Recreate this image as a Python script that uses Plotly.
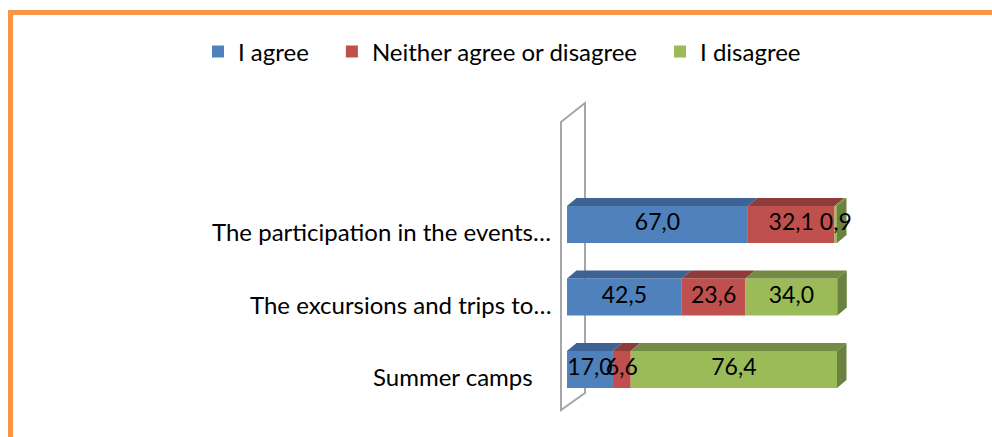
import plotly.graph_objects as go

# ---------------- data ----------------
categories = ["Summer camps", "The excursions and trips to…", "The participation in the events…"]
series_names = ["I agree", "Neither agree or disagree", "I disagree"]
agree = [17.0, 42.5, 67.0]
neither = [6.6, 23.6, 32.1]
disagree = [76.4, 34.0, 0.9]

# ---------------- styles ----------------
front_colors = ["#4F81BD", "#C0504D", "#9BBB59"]
top_colors = ["#3D6394", "#8E3C3A", "#728C43"]
side_color = "#6A8240"
FONT = "Lato"
label_xshift = [-18, 0, 0]
legend_pad = "\u2002\u2005"

W, H = 992, 437
PL, PR, PT, PB = 540, 870, 90, 420          # plot area in px
X0PX, XPX = 567, 2.7                          # px of value 0, px per unit
Y0PX, YPX = 369.5, 72.5                       # px of category 0, px per unit
xr = [(PL - X0PX) / XPX, (PR - X0PX) / XPX]
yr = [(Y0PX - PB) / YPX, (Y0PX - PT) / YPX]
bar_w = 37 / YPX
dx, dy = 9.5 / XPX, 8 / YPX

series = [agree, neither, disagree]
ypos = list(range(len(categories)))

fig = go.Figure()

# front faces
bases = [0.0] * len(categories)
all_bases = []
for name, vals, col in zip(series_names, series, front_colors):
    all_bases.append(list(bases))
    fig.add_trace(go.Bar(
        y=ypos, x=vals, base=list(bases), orientation="h", name=name + legend_pad,
        width=bar_w, marker=dict(color=col, line=dict(width=0)),
        hoverinfo="skip",
    ))
    bases = [b + v for b, v in zip(bases, vals)]

# top faces
for vals, b0s, col in zip(series, all_bases, top_colors):
    xs, ys = [], []
    for y, v, b in zip(ypos, vals, b0s):
        yt = y + bar_w / 2
        xs += [b, b + v, b + v + dx, b + dx, b, None]
        ys += [yt, yt, yt + dy, yt + dy, yt, None]
    fig.add_trace(go.Scatter(x=xs, y=ys, mode="lines", fill="toself",
                             fillcolor=col, line=dict(width=0, color=col),
                             showlegend=False, hoverinfo="skip"))

# side faces (end of each stack)
xs, ys = [], []
for y, e in zip(ypos, bases):
    yt, yb = y + bar_w / 2, y - bar_w / 2
    xs += [e, e, e + dx, e + dx, e, None]
    ys += [yb, yt, yt + dy, yb + dy, yb, None]
fig.add_trace(go.Scatter(x=xs, y=ys, mode="lines", fill="toself",
                         fillcolor=side_color, line=dict(width=0, color=side_color),
                         showlegend=False, hoverinfo="skip"))

# value labels on top of everything
for vals, b0s in zip(series, all_bases):
    fig.add_trace(go.Scatter(
        x=[b + v / 2 for v, b in zip(vals, b0s)], y=ypos, mode="text",
        text=[f"{v:.1f}".replace(".", ",") for v in vals],
        textposition="middle center", cliponaxis=False,
        textfont=dict(family=FONT, size=23, color="black"),
        showlegend=False, hoverinfo="skip"))

# back wall (3D category wall)
wf = (561 - X0PX) / XPX
wb = (585 - X0PX) / XPX
wall_path = "M {a},{b} L {a},{c} L {d},{e} L {d},{f} Z".format(
    a=wf, b=(Y0PX - 410) / YPX, c=(Y0PX - 122) / YPX,
    d=wb, e=(Y0PX - 103) / YPX, f=(Y0PX - 393) / YPX)

shapes = [
    dict(type="path", path=wall_path, xref="x", yref="y", layer="below",
         line=dict(color="#A6A6A6", width=2), fillcolor="white"),
    dict(type="rect", xref="paper", yref="paper",
         x0=(10.5 - PL) / (PR - PL), x1=3, y0=-1, y1=(PB - 12.5) / (PB - PT),
         line=dict(color="#F79646", width=5), fillcolor="rgba(0,0,0,0)", layer="above"),
]

annotations = []
for y, c, xs_ in zip(ypos, categories, label_xshift):
    annotations.append(dict(x=(553 - X0PX) / XPX, y=y, xref="x", yref="y", text=c,
                            showarrow=False, xanchor="right", yanchor="middle",
                            yshift=-7, xshift=xs_,
                            font=dict(family=FONT, size=24, color="black")))

fig.update_layout(
    width=W, height=H,
    margin=dict(l=PL, r=W - PR, t=PT, b=H - PB, pad=0),
    paper_bgcolor="white", plot_bgcolor="white",
    barmode="overlay",
    xaxis=dict(range=xr, visible=False, fixedrange=True),
    yaxis=dict(range=yr, visible=False, fixedrange=True),
    legend=dict(orientation="h", x=(198 - PL) / (PR - PL), xanchor="left",
                y=(PB - 52) / (PB - PT), yanchor="middle",
                font=dict(family=FONT, size=24, color="black"),
                bgcolor="rgba(0,0,0,0)", traceorder="normal"),
    shapes=shapes, annotations=annotations,
    showlegend=True,
)

fig.write_html("out.html", config={"displayModeBar": False},
               post_script="document.body.style.margin='0';")
